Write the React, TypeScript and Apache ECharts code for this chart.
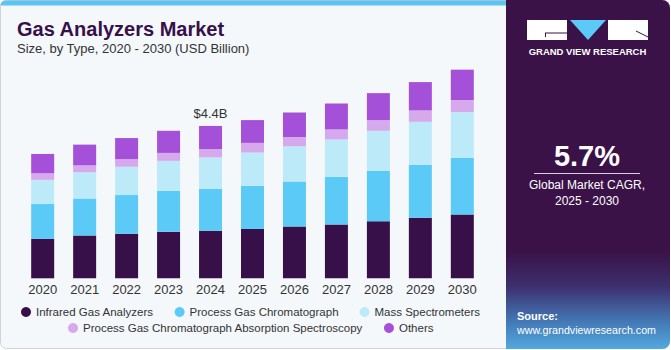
import React, { useEffect, useRef } from "react";
import * as echarts from "echarts";

const years = ["2020", "2021", "2022", "2023", "2024", "2025", "2026", "2027", "2028", "2029", "2030"];
const infrared = [1.14, 1.24, 1.29, 1.35, 1.38, 1.43, 1.5, 1.56, 1.65, 1.75, 1.85];
const processGC = [1.01, 1.07, 1.12, 1.18, 1.21, 1.25, 1.3, 1.38, 1.46, 1.54, 1.63];
const massSpec = [0.7, 0.76, 0.82, 0.87, 0.91, 0.96, 1.02, 1.08, 1.16, 1.24, 1.33];
const absorption = [0.19, 0.2, 0.22, 0.23, 0.24, 0.28, 0.27, 0.29, 0.31, 0.33, 0.35];
const others = [0.56, 0.6, 0.61, 0.64, 0.67, 0.66, 0.71, 0.75, 0.78, 0.82, 0.88];
const seriesNames = [
  "Infrared Gas Analyzers",
  "Process Gas Chromatograph",
  "Mass Spectrometers",
  "Process Gas Chromatograph Absorption Spectroscopy",
  "Others",
];
const seriesColors = ["#37104a", "#5ccaf6", "#bdeaf9", "#d6a9ec", "#a550d8"];
const highlightYear = "2024";
const highlightLabel = "$4.4B";

export default function App() {
  const ref = useRef<HTMLDivElement>(null);
  useEffect(() => {
    document.body.style.margin = "0";
    const chart = echarts.init(ref.current!, null, { renderer: "svg" });
    const data = [infrared, processGC, massSpec, absorption, others];
    const font = "'Liberation Sans', Arial, sans-serif";
    const series: any[] = data.map((d, i) => ({
      name: seriesNames[i],
      type: "bar",
      stack: "total",
      barWidth: 23,
      data: d,
      itemStyle: { color: seriesColors[i] },
      label:
        i === data.length - 1
          ? {
              show: true,
              position: "top",
              distance: 6,
              color: "#333",
              fontSize: 13,
              fontFamily: font,
              formatter: (p: any) => (p.name === highlightYear ? highlightLabel : ""),
            }
          : { show: false },
    }));
    const legendText = { color: "#333", fontSize: 11.5, fontFamily: font };
    chart.setOption({
      animation: false,
      backgroundColor: "#ffffff",
      textStyle: { fontFamily: font },
      grid: { left: 21.7, right: 187.7, top: 36.5, bottom: 71.7 },
      xAxis: {
        type: "category",
        data: years,
        axisLine: { show: false },
        axisTick: { show: false },
        axisLabel: { color: "#333", fontSize: 13, margin: 5, fontFamily: font },
      },
      yAxis: { type: "value", min: 0, max: 7, show: false, splitLine: { show: false } },
      legend: [
        {
          data: seriesNames.slice(0, 3),
          left: 21,
          top: 306,
          padding: 0,
          icon: "circle",
          itemWidth: 10,
          itemHeight: 10,
          itemGap: 21,
          textStyle: legendText,
        },
        {
          data: seriesNames.slice(3),
          left: 68,
          top: 322,
          padding: 0,
          icon: "circle",
          itemWidth: 10,
          itemHeight: 10,
          itemGap: 21,
          textStyle: legendText,
        },
      ],
      graphic: [
        {
          type: "rect",
          z: -10,
          silent: true,
          shape: { x: 0.5, y: 0.5, width: 669, height: 348, r: 6 },
          style: { fill: "#f4f8fb", stroke: "#cfd3d8", lineWidth: 1 },
        },
        {
          type: "rect",
          z: -9,
          silent: true,
          shape: { x: 0.5, y: 0.5, width: 506, height: 5, r: [6, 0, 0, 0] },
          style: { fill: "#5cc4ef" },
        },
        {
          type: "rect",
          z: -8,
          silent: true,
          shape: { x: 506, y: 0, width: 164, height: 349, r: [0, 8, 8, 0] },
          style: {
            fill: {
              type: "linear",
              x: 0,
              y: 0,
              x2: 0,
              y2: 1,
              colorStops: [
                { offset: 0, color: "#3a1248" },
                { offset: 0.72, color: "#3a1248" },
                { offset: 0.82, color: "#3d2f6e" },
                { offset: 0.92, color: "#4377b4" },
                { offset: 1, color: "#53a9de" },
              ],
            },
          },
        },
        // logo
        { type: "rect", silent: true, shape: { x: 527, y: 20, width: 40, height: 20 }, style: { fill: "#ffffff" } },
        { type: "line", silent: true, shape: { x1: 545, y1: 33, x2: 567, y2: 33 }, style: { stroke: "#3a1248", lineWidth: 1 } },
        { type: "line", silent: true, shape: { x1: 545.5, y1: 33, x2: 545.5, y2: 37 }, style: { stroke: "#3a1248", lineWidth: 1 } },
        { type: "polygon", silent: true, shape: { points: [[570, 20], [606, 20], [588, 40]] }, style: { fill: "#5ccaf6" } },
        { type: "rect", silent: true, shape: { x: 608, y: 20, width: 40, height: 20 }, style: { fill: "#ffffff" } },
        { type: "line", silent: true, shape: { x1: 636, y1: 31, x2: 648, y2: 37 }, style: { stroke: "#3a1248", lineWidth: 1 } },
        {
          type: "text",
          silent: true,
          style: {
            x: 587.5,
            y: 51,
            text: "GRAND VIEW RESEARCH",
            align: "center",
            verticalAlign: "middle",
            fill: "#ffffff",
            font: "bold 9.5px 'Liberation Sans', Arial, sans-serif",
          },
        },
        {
          type: "text",
          silent: true,
          style: {
            x: 587,
            y: 156,
            text: "5.7%",
            align: "center",
            verticalAlign: "middle",
            fill: "#ffffff",
            font: "bold 29px 'Liberation Sans', Arial, sans-serif",
          },
        },
        { type: "line", silent: true, shape: { x1: 534, y1: 173.5, x2: 640, y2: 173.5 }, style: { stroke: "#d8d0e0", lineWidth: 1 } },
        {
          type: "text",
          silent: true,
          style: {
            x: 587,
            y: 185,
            text: "Global Market CAGR,",
            align: "center",
            verticalAlign: "middle",
            fill: "#ffffff",
            font: "12px 'Liberation Sans', Arial, sans-serif",
          },
        },
        {
          type: "text",
          silent: true,
          style: {
            x: 587,
            y: 201,
            text: "2025 - 2030",
            align: "center",
            verticalAlign: "middle",
            fill: "#ffffff",
            font: "12px 'Liberation Sans', Arial, sans-serif",
          },
        },
        {
          type: "text",
          silent: true,
          style: {
            x: 517,
            y: 316,
            text: "Source:",
            verticalAlign: "middle",
            fill: "#ffffff",
            font: "bold 11px 'Liberation Sans', Arial, sans-serif",
          },
        },
        {
          type: "text",
          silent: true,
          style: {
            x: 517,
            y: 330,
            text: "www.grandviewresearch.com",
            verticalAlign: "middle",
            fill: "#ffffff",
            font: "10.7px 'Liberation Sans', Arial, sans-serif",
          },
        },
        {
          type: "text",
          silent: true,
          style: {
            x: 17,
            y: 28.5,
            text: "Gas Analyzers Market",
            verticalAlign: "middle",
            fill: "#37104a",
            font: "900 20px 'Liberation Sans', Arial, sans-serif",
          },
        },
        {
          type: "text",
          silent: true,
          style: {
            x: 17,
            y: 48.5,
            text: "Size, by Type, 2020 - 2030 (USD Billion)",
            verticalAlign: "middle",
            fill: "#333333",
            font: "13px 'Liberation Sans', Arial, sans-serif",
          },
        },
      ],
      series,
    });
    return () => chart.dispose();
  }, []);
  return <div ref={ref} style={{ width: 671, height: 350 }} />;
}
